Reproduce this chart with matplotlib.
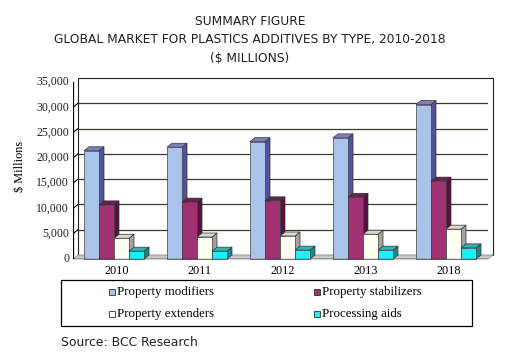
import matplotlib.pyplot as plt
from matplotlib.patches import Polygon, Rectangle
from matplotlib.lines import Line2D

years = ["2010", "2011", "2012", "2013", "2018"]
series = ["Property modifiers", "Property stabilizers", "Property extenders", "Processing aids"]
modifiers = [21400, 22100, 23200, 23950, 30550]
stabilizers = [10700, 11250, 11500, 12200, 15400]
extenders = [4100, 4350, 4550, 4900, 5900]
processing = [1550, 1550, 1750, 1750, 2200]
values = [modifiers, stabilizers, extenders, processing]
yticks = [0, 5000, 10000, 15000, 20000, 25000, 30000, 35000]

front = ["#a9c3ea", "#a13272", "#fffff2", "#1eeef6"]
side = ["#52519c", "#581040", "#a2a2a2", "#128a8a"]
top = ["#7d7fc2", "#6e1f52", "#d9d9cf", "#2fb5b5"]

W, H = 508, 359
fig = plt.figure(figsize=(W / 100, H / 100), dpi=100)
serif = "Liberation Serif"

# front plane of the plot area, in pixels
x0, x1, yb, yt = 73, 488, 259, 82
dx, dy = 5, 4
ax = fig.add_axes([x0 / W, 1 - yb / H, (x1 - x0) / W, (yb - yt) / H])
ax.set_xlim(-0.5, len(years) - 0.5)
ax.set_ylim(0, 35000)
ax.axis("off")


def px(x, y):
    p = ax.transData.transform((x, y))
    return p[0], p[1]


def add_poly(pts, fc, ec="none", lw=0.6, z=2):
    ax.add_patch(Polygon(pts, closed=True, facecolor=fc, edgecolor=ec, linewidth=lw,
                         transform=None, clip_on=False, zorder=z))


# back wall and floor
bl = px(-0.5, 0)
tr = px(len(years) - 0.5, 35000)
add_poly([(bl[0] + dx, bl[1] + dy), (tr[0] + dx, bl[1] + dy), (tr[0] + dx, tr[1] + dy),
          (bl[0] + dx, tr[1] + dy)], "white", "#202020", 0.8, 0)
add_poly([bl, (tr[0], bl[1]), (tr[0] + dx, bl[1] + dy), (bl[0] + dx, bl[1] + dy)], "#c8c8c8", "#909090", 0.6, 0)
for v in yticks[1:]:
    p = px(-0.5, v)
    ax.add_line(Line2D([p[0] + dx, tr[0] + dx], [p[1] + dy, p[1] + dy], color="#3a3a2a",
                       lw=0.9, transform=None, zorder=1))
    ax.add_line(Line2D([p[0], p[0] + dx], [p[1], p[1] + dy], color="black", lw=0.8, transform=None, zorder=1))

# front axes
ax.add_line(Line2D([bl[0], bl[0]], [bl[1], tr[1]], color="black", lw=0.9, transform=None, zorder=5))
ax.add_line(Line2D([bl[0], tr[0]], [bl[1], bl[1]], color="black", lw=0.9, transform=None, zorder=5))
for v in yticks:
    p = px(-0.5, v)
    ax.add_line(Line2D([p[0] - 3, p[0]], [p[1], p[1]], color="black", lw=0.8, transform=None, zorder=5))
    ax.text(p[0] - 4, p[1], f"{v:,}", ha="right", va="center", transform=None,
            fontsize=8.5, family=serif, color="#202020")
for i in range(len(years) + 1):
    p = px(i - 0.5, 0)
    ax.add_line(Line2D([p[0], p[0]], [p[1], p[1] - 3], color="black", lw=0.8, transform=None, zorder=5))
for i, yr in enumerate(years):
    p = px(i, 0)
    ax.text(p[0] + dx / 2, p[1] - 12, yr, ha="center", va="center", transform=None,
            fontsize=8.8, family=serif)

# 3d-looking bars
bw = 15 / 83
gap = 11 / 83
for s in range(len(series)):
    for i in range(len(years)):
        xl = i - 0.5 + gap + s * bw
        xr = xl + bw
        a = px(xl, 0)
        b = px(xr, values[s][i])
        z = 3 + s * 0.01
        add_poly([(b[0], a[1]), (b[0], b[1]), (b[0] + dx, b[1] + dy), (b[0] + dx, a[1] + dy)],
                 side[s], "#303030", 0.5, z)
        add_poly([(a[0], b[1]), (b[0], b[1]), (b[0] + dx, b[1] + dy), (a[0] + dx, b[1] + dy)],
                 top[s], "#303030", 0.5, z)
        add_poly([a, (b[0], a[1]), b, (a[0], b[1])], front[s], "#404040", 0.5, z)

fig.text(20 / W, 1 - 166 / H, "$ Millions", rotation=90, ha="center", va="center",
         fontsize=8.8, family=serif)

titles = ["SUMMARY FIGURE", "GLOBAL MARKET FOR PLASTICS ADDITIVES BY TYPE, 2010-2018", "($ MILLIONS)"]
for t, yy in zip(titles, [21.5, 40, 58]):
    fig.text(250 / W, 1 - yy / H, t, ha="center", va="center", fontsize=8.85,
             family="DejaVu Sans", color="#202020")

# legend box
fig.patches.append(Rectangle((61 / W, 1 - 326 / H), 411 / W, 46 / H, transform=fig.transFigure,
                             facecolor="white", edgecolor="black", linewidth=0.9))
legx = [112, 317, 112, 317]
legy = [292, 292, 314, 314]
for s in range(len(series)):
    fig.patches.append(Rectangle(((legx[s] - 3) / W, 1 - (legy[s] + 3) / H), 6 / W, 6 / H,
                                 transform=fig.transFigure, facecolor=front[s],
                                 edgecolor="#303030", linewidth=0.6))
    fig.text((legx[s] + 5) / W, 1 - legy[s] / H, series[s], ha="left", va="center",
             fontsize=9.3, family=serif)

fig.text(61 / W, 1 - 342 / H, "Source: BCC Research", ha="left", va="center",
         fontsize=8.9, family="DejaVu Sans", color="#202020")

fig.savefig("out.png", dpi=100)
